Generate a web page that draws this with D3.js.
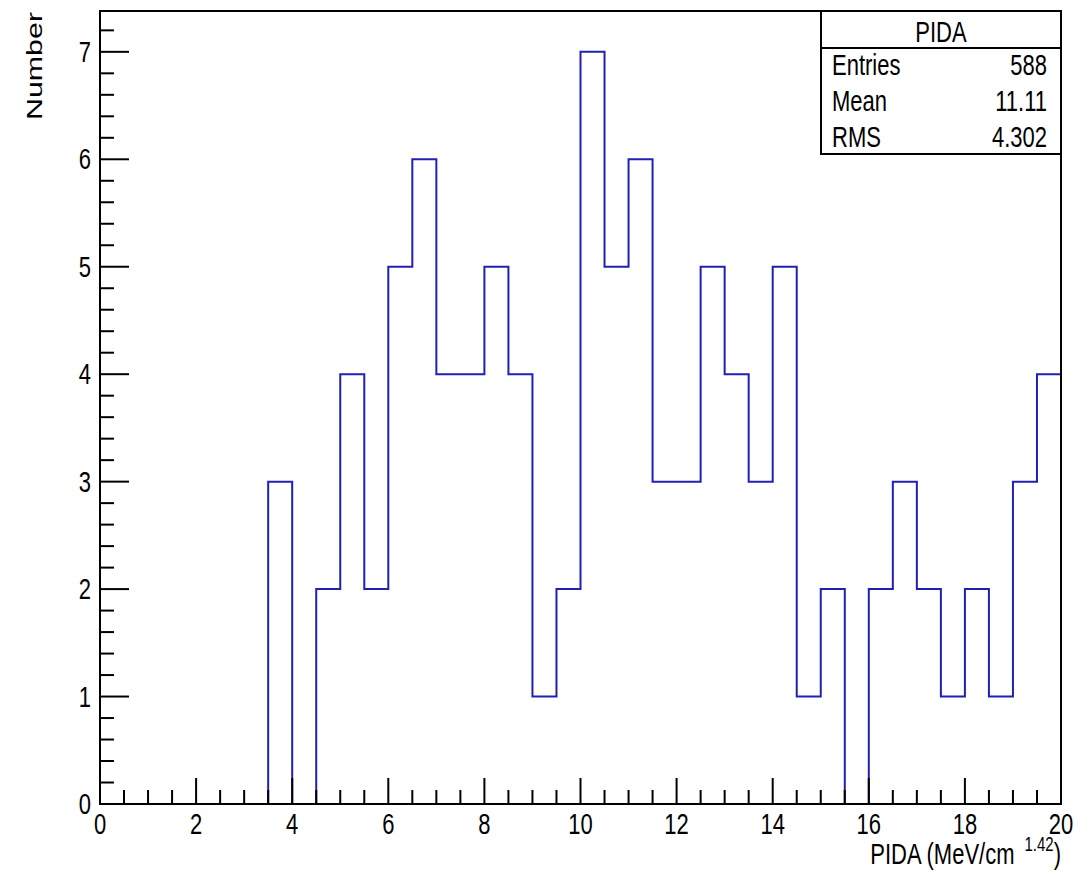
<!DOCTYPE html>
<html lang="en">
<head>
  <meta charset="UTF-8">
  <title>PIDA</title>
  <script src="https://d3js.org/d3.v7.min.js"></script>
  <style>
    body { margin: 0; background: #fff; }
    text { font-family: "Liberation Sans", Arial, sans-serif; fill: #000; }
  </style>
</head>
<body>
  <svg width="1091" height="876"></svg>

  <script>
    // Bin lower edges (width 0.5) and counts
    const binEdges = d3.range(0, 20, 0.5);
    const counts = [0, 0, 0, 0, 0, 0, 0, 3, 0, 2,
                    4, 2, 5, 6, 4, 4, 5, 4, 1, 2,
                    7, 5, 6, 3, 3, 5, 4, 3, 5, 1,
                    2, 0, 2, 3, 2, 1, 2, 1, 3, 4];
    const xTicks = [0, 2, 4, 6, 8, 10, 12, 14, 16, 18, 20];
    const yTicks = [0, 1, 2, 3, 4, 5, 6, 7];
    const statsRows = [["Entries", "588"], ["Mean", "11.11"], ["RMS", "4.302"]];

    const svg = d3.select("svg");
    const pLeft = 100, pRight = 1061, pTop = 11, pBottom = 804;
    const sy = 1.3; // text vertical stretch seen in the picture

    const x = d3.scaleLinear().domain([0, 20]).range([pLeft, pRight]);
    const y = d3.scaleLinear().domain([0, 7.38]).range([pBottom, pTop]);

    // Histogram outline as a step path
    const pts = [[0, 0]];
    binEdges.forEach((e, i) => {
      pts.push([e, counts[i]]);
      pts.push([e + 0.5, counts[i]]);
    });
    pts.push([20, 0]);
    svg.append("path")
      .attr("d", d3.line().x(d => x(d[0])).y(d => y(d[1]))(pts))
      .attr("fill", "none")
      .attr("stroke", "#2020b4")
      .attr("stroke-width", 2);

    // Ticks
    const g = svg.append("g").attr("stroke", "#000").attr("stroke-width", 2);
    d3.range(0, 20.001, 0.5).forEach(v => {
      const major = Math.abs(v % 2) < 1e-6;
      g.append("line")
        .attr("x1", x(v)).attr("x2", x(v))
        .attr("y1", pBottom).attr("y2", pBottom - (major ? 26 : 14));
    });
    d3.range(0, 7.39, 0.2).forEach(v => {
      const major = Math.abs(v - Math.round(v)) < 1e-6;
      g.append("line")
        .attr("y1", y(v)).attr("y2", y(v))
        .attr("x1", pLeft).attr("x2", pLeft + (major ? 29 : 14));
    });

    // Frame
    svg.append("rect")
      .attr("x", pLeft).attr("y", pTop)
      .attr("width", pRight - pLeft).attr("height", pBottom - pTop)
      .attr("fill", "none").attr("stroke", "#000").attr("stroke-width", 2);

    function stretchedText(px, py, str, anchor, size) {
      return svg.append("text")
        .attr("transform", `translate(${px},${py}) scale(1,${sy})`)
        .attr("text-anchor", anchor)
        .attr("font-size", size)
        .text(str);
    }

    // Tick labels
    xTicks.forEach(v => stretchedText(x(v), 834, v, "middle", 22));
    yTicks.forEach(v => stretchedText(91, y(v) + 10, v, "end", 22));

    // Axis titles
    const xt = svg.append("text")
      .attr("transform", `translate(1061,864) scale(1,${sy})`)
      .attr("text-anchor", "end")
      .attr("font-size", 22);
    xt.append("tspan").text("PIDA (MeV/cm");
    xt.append("tspan").attr("font-size", 15).attr("dx", 10).attr("dy", -10).text("1.42");
    xt.append("tspan").attr("dy", 10).text(")");

    svg.append("text")
      .attr("transform", `translate(42,12) rotate(-90) scale(1.38,1)`)
      .attr("text-anchor", "end")
      .attr("font-size", 22)
      .text("Number");

    // Stats box
    const bx = 821, bw = pRight - bx, by = pTop, bh = 143, ty = 48;
    svg.append("rect")
      .attr("x", bx).attr("y", by).attr("width", bw).attr("height", bh)
      .attr("fill", "#fff").attr("stroke", "#000").attr("stroke-width", 2);
    svg.append("line")
      .attr("x1", bx).attr("x2", bx + bw).attr("y1", ty).attr("y2", ty)
      .attr("stroke", "#000").attr("stroke-width", 2);
    stretchedText(bx + bw / 2, 42, "PIDA", "middle", 22);
    statsRows.forEach((r, i) => {
      const ry = 75 + i * 36;
      stretchedText(bx + 11, ry, r[0], "start", 22);
      stretchedText(bx + bw - 14, ry, r[1], "end", 22);
    });
  </script>
</body>
</html>
